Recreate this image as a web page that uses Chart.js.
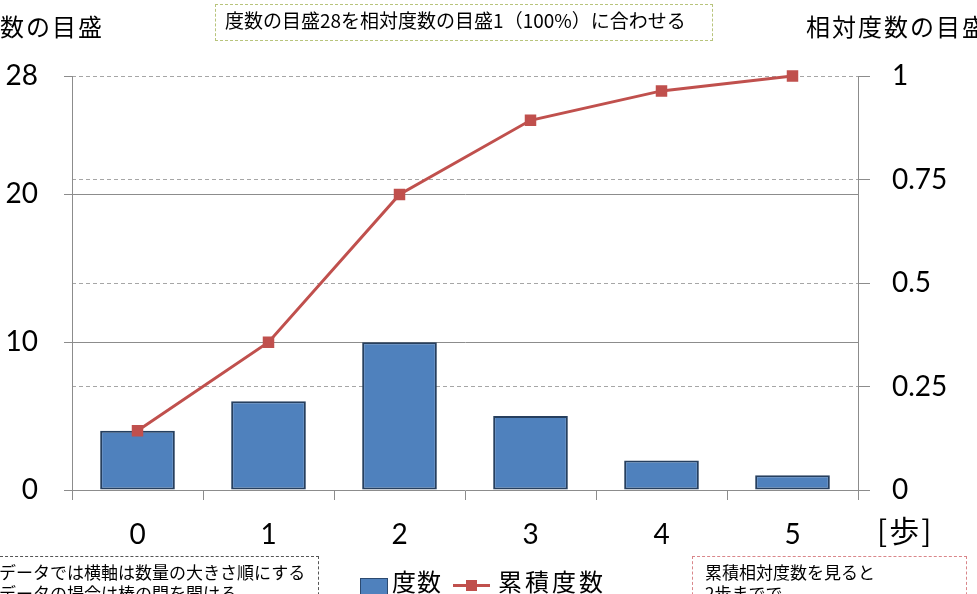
<!DOCTYPE html>
<html>
<head>
<meta charset="utf-8">
<script src="https://cdn.jsdelivr.net/npm/chart.js@4.4.0/dist/chart.umd.min.js"></script>
<style>
  body { margin: 0; background: #fff; overflow: hidden; }
  #wrap { position: relative; width: 977px; height: 594px; overflow: hidden; }
  #chart { position: absolute; left: 0; top: 0; }
  .jp { position: absolute; font-family: "Noto Sans CJK JP", sans-serif; color: #000; white-space: nowrap; }
  .axisTitle { font-size: 24px; letter-spacing: 2px; line-height: 1; }
  .box { position: absolute; box-sizing: border-box; border: 1px dashed; }
  .note { font-size: 17px; line-height: 21px; }
</style>
</head>
<body>
<div id="wrap">
  <canvas id="chart" width="977" height="594"></canvas>

  <div class="jp axisTitle" style="left:-26px; top:14px;">度数の目盛</div>
  <div class="jp axisTitle" style="left:806px; top:14px;">相対度数の目盛</div>

  <div class="box" style="left:215px; top:4px; width:498px; height:37px; border-color:#b8c47c;"></div>
  <div class="jp" style="left:225px; top:10px; font-size:19px; line-height:1.1;">度数の目盛28を相対度数の目盛1（100%）に合わせる</div>

  <div class="jp" style="left:877px; top:514px; font-size:30px; line-height:1; letter-spacing:2px;">[歩]</div>

  <div class="box" style="left:-10px; top:556px; width:329px; height:60px; border-color:#555;"></div>
  <div class="jp note" style="left:-35px; top:561px;">量的データでは横軸は数量の大きさ順にする<br>質的データの場合は棒の間を開ける</div>

  <div class="box" style="left:692px; top:556px; width:275px; height:60px; border-color:#d9868a;"></div>
  <div class="jp note" style="left:705px; top:561px;">累積相対度数を見ると<br>2歩までで</div>

  <div style="position:absolute; left:360px; top:578px; width:28px; height:20px; background:#4f81bd; border:1px solid #2c4a70; box-sizing:border-box;"></div>
  <div class="jp" style="left:392px; top:569px; font-size:24px; line-height:1; letter-spacing:1px;">度数</div>
  <div style="position:absolute; left:453px; top:584px; width:37px; height:3px; background:#c0504d;"></div>
  <div style="position:absolute; left:466px; top:580px; width:11px; height:11px; background:#c0504d;"></div>
  <div class="jp" style="left:498px; top:569px; font-size:24px; line-height:1; letter-spacing:3px;">累積度数</div>
</div>

<script>
// data
var steps = ['0', '1', '2', '3', '4', '5'];
var freq = [4, 6, 10, 5, 2, 1];
var cumRel = [0.143, 0.357, 0.714, 0.893, 0.964, 1];
var leftTicks = [0, 10, 20, 28];
var rightTicks = [0, 0.25, 0.5, 0.75, 1];

var numFont = { family: 'Lato, "Open Sans", sans-serif', size: 28 };
var axisGray = '#8c8c8c';

var ctx = document.getElementById('chart').getContext('2d');
var chart = new Chart(ctx, {
  type: 'bar',
  data: {
    labels: steps,
    datasets: [{
      type: 'line',
      label: '累積度数',
      data: cumRel,
      yAxisID: 'y1',
      borderColor: '#c0504d',
      backgroundColor: '#c0504d',
      borderWidth: 3,
      pointStyle: 'rect',
      pointRadius: 6,
      pointBackgroundColor: '#c0504d',
      pointBorderColor: '#c0504d',
      tension: 0,
      clip: false,
      order: 0
    }, {
      type: 'bar',
      label: '度数',
      data: freq,
      yAxisID: 'y',
      backgroundColor: '#4f81bd',
      borderColor: '#263f5e',
      borderWidth: 2,
      borderSkipped: false,
      categoryPercentage: 1,
      barPercentage: 0.57,
      order: 1
    }]
  },
  options: {
    responsive: false,
    animation: false,
    layout: { padding: { top: 76, left: 0, right: 0, bottom: 0 } },
    plugins: {
      legend: { display: false },
      tooltip: { enabled: false }
    },
    scales: {
      x: {
        offset: true,
        grid: { offset: true, drawOnChartArea: false, drawTicks: true, tickLength: 10, color: axisGray },
        border: { color: axisGray },
        ticks: { font: numFont, color: '#000', padding: 18 },
        afterFit: function(s) { s.height = 104; }
      },
      y: {
        position: 'left',
        min: 0,
        max: 28,
        afterBuildTicks: function(s) { s.ticks = leftTicks.map(function(v) { return { value: v }; }); },
        grid: {
          color: function(c) { return (c.tick && (c.tick.value === 10 || c.tick.value === 20)) ? '#8c8c8c' : 'rgba(0,0,0,0)'; },
          tickColor: axisGray,
          tickLength: 8
        },
        border: { color: axisGray },
        ticks: { font: numFont, color: '#000', padding: 26 },
        afterFit: function(s) { s.width = 72; }
      },
      y1: {
        position: 'right',
        min: 0,
        max: 1,
        afterBuildTicks: function(s) { s.ticks = rightTicks.map(function(v) { return { value: v }; }); },
        grid: {
          color: function(c) { return (c.tick && c.tick.value === 0) ? 'rgba(0,0,0,0)' : '#a6a6a6'; },
          tickColor: axisGray,
          tickLength: 12
        },
        border: { color: axisGray, dash: [4, 3] },
        ticks: {
          font: numFont,
          color: '#000',
          padding: 22,
          callback: function(v) { return String(v); }
        },
        afterFit: function(s) { s.width = 119; }
      }
    }
  }
});
</script>
</body>
</html>
